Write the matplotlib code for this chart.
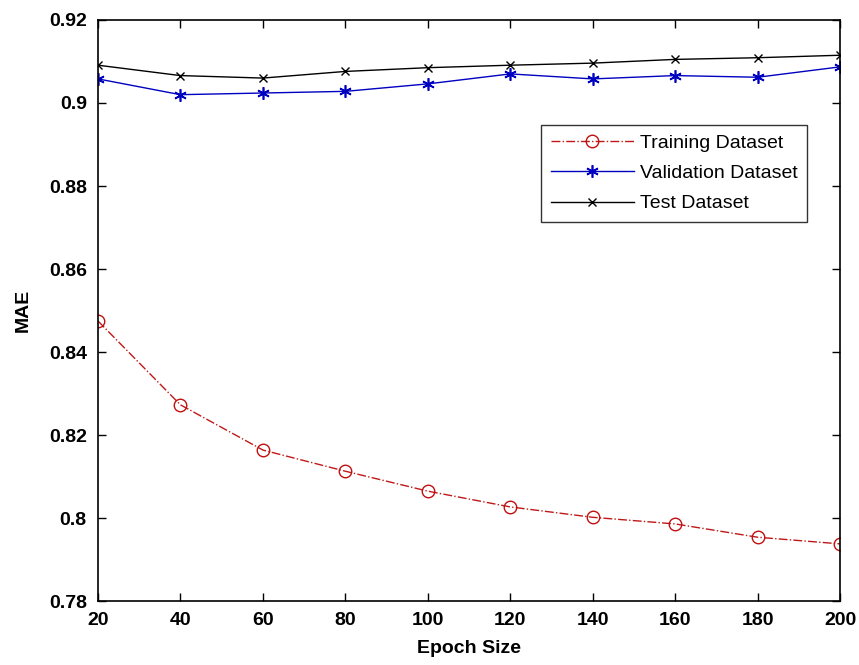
import numpy as np
import matplotlib
matplotlib.use('Agg')
import matplotlib.pyplot as plt
from matplotlib import rcParams

rcParams['font.family'] = ['Liberation Sans Narrow', 'Liberation Sans', 'DejaVu Sans']

# data
epoch_size = [20, 40, 60, 80, 100, 120, 140, 160, 180, 200]
mae_training = [0.8475, 0.8273, 0.8164, 0.8113, 0.8065, 0.8027, 0.8002, 0.7986, 0.7954, 0.7938]
mae_validation = [0.9058, 0.9020, 0.9024, 0.9028, 0.9046, 0.9070, 0.9058, 0.9066, 0.9062, 0.9087]
mae_test = [0.9091, 0.9066, 0.9060, 0.9076, 0.9085, 0.9091, 0.9096, 0.9105, 0.9109, 0.9115]

x_ticks = [20, 40, 60, 80, 100, 120, 140, 160, 180, 200]
y_ticks = [0.78, 0.8, 0.82, 0.84, 0.86, 0.88, 0.9, 0.92]
y_ticklabels = ['0.78', '0.8', '0.82', '0.84', '0.86', '0.88', '0.9', '0.92']

fig = plt.figure(figsize=(8.59, 6.65), dpi=100)
ax = fig.add_axes([0.114, 0.096, 0.864, 0.874])

ax.plot(epoch_size, mae_training, color='#c01818', ls='-.', lw=1.0, marker='o', ms=9,
        mfc='none', mec='#c01010', mew=1.0, label='Training Dataset')
ax.plot(epoch_size, mae_validation, color='#0000c0', ls='-', lw=1.0, marker=(6, 2, 0), ms=9,
        mfc='#0000c0', mec='#0000c0', mew=1.2, label='Validation Dataset')
ax.plot(epoch_size, mae_test, color='black', ls='-', lw=1.0, marker='x', ms=6,
        label='Test Dataset')

ax.set_xlim(20, 200)
ax.set_ylim(0.78, 0.92)
ax.set_xticks(x_ticks)
ax.set_yticks(y_ticks)
ax.set_yticklabels(y_ticklabels)
ax.tick_params(direction='in', top=True, right=True, length=6, width=1.0, labelsize=14)
ax.tick_params(axis='x', pad=8)
ax.tick_params(axis='y', pad=8)
for lbl in ax.get_xticklabels() + ax.get_yticklabels():
    lbl.set_fontweight('bold')
for s in ax.spines.values():
    s.set_linewidth(1.2)

ax.set_xlabel('Epoch Size', fontsize=14, fontweight='bold', labelpad=8)
ax.set_ylabel('MAE', fontsize=14, fontweight='bold', labelpad=12)

leg = ax.legend(loc='upper right', bbox_to_anchor=(0.956, 0.82), fontsize=14, frameon=True,
                fancybox=False, edgecolor='black', borderpad=0.5, labelspacing=0.65,
                handlelength=4.3, handletextpad=0.3, borderaxespad=0)
leg.get_frame().set_linewidth(1.0)

fig.savefig('out.png', dpi=100)
